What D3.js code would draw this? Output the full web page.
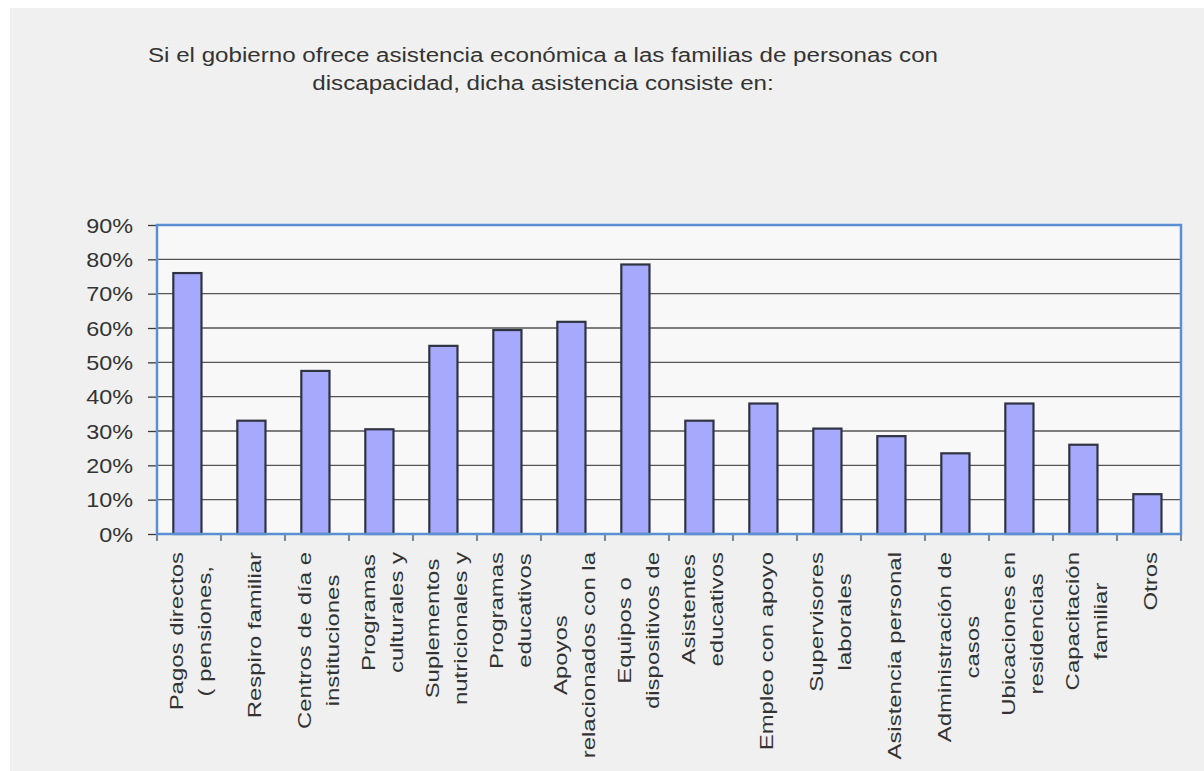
<!DOCTYPE html>
<html>
<head>
<meta charset="utf-8">
<script src="https://cdn.jsdelivr.net/npm/d3@7"></script>
<style>
  body { margin: 0; background: #fff; }
  text { font-family: "Liberation Sans", Arial, sans-serif; fill: #333; }
</style>
</head>
<body>
<svg id="mysvg" width="1204" height="771"></svg>
<script>
// data
let titleLines = ["Si el gobierno ofrece asistencia económica a las familias de personas con",
                  "discapacidad, dicha asistencia consiste en:"];

let categories = [
    "Pagos directos\n( pensiones,",
    "Respiro familiar",
    "Centros de día e\ninstituciones",
    "Programas\nculturales y",
    "Suplementos\nnutricionales y",
    "Programas\neducativos",
    "Apoyos\nrelacionados con la",
    "Equipos o\ndispositivos de",
    "Asistentes\neducativos",
    "Empleo con apoyo",
    "Supervisores\nlaborales",
    "Asistencia personal",
    "Administración de\ncasos",
    "Ubicaciones en\nresidencias",
    "Capacitación\nfamiliar",
    "Otros"
];

let values = [76, 33, 47.5, 30.5, 54.8, 59.4, 61.8, 78.5, 33, 38, 30.7, 28.5, 23.5, 38, 26, 11.6];

let yTicks = [0, 10, 20, 30, 40, 50, 60, 70, 80, 90];


let svg = d3.select('#mysvg');

let plotLeft = 157, plotRight = 1181, plotTop = 225, plotBottom = 534;
// text in the picture runs longer than Arial at the same glyph height
let titleStretch = 1.15, tickStretch = 1.17, labelStretch = 1.26;

// page background
svg.append("rect").attr("x", 10).attr("y", 8).attr("width", 1194).attr("height", 763).attr("fill", "#f0f0f0");

// title
svg.append("g")
    .attr("transform", "translate(543,0) scale(" + titleStretch + ",1)")
    .append("text")
    .attr("text-anchor", "middle")
    .style("font-size", "21px")
    .selectAll("tspan")
    .data(titleLines)
    .enter()
    .append("tspan")
    .attr("x", 0)
    .attr("y", function(d, i){ return 62 + i * 28 })
    .text(d => d);

let x = d3.scaleBand().domain(categories).range([plotLeft, plotRight]);
let y = d3.scaleLinear().domain([0, 90]).range([plotBottom, plotTop]);

// plot area
svg.append("rect")
    .attr("x", plotLeft).attr("y", plotTop)
    .attr("width", plotRight - plotLeft).attr("height", plotBottom - plotTop)
    .attr("fill", "#f8f8f8");

// gridlines
svg.append("g")
    .selectAll("line")
    .data(yTicks.filter(d => d > 0 && d < 90))
    .enter()
    .append("line")
    .attr("x1", plotLeft).attr("x2", plotRight)
    .attr("y1", d => y(d)).attr("y2", d => y(d))
    .attr("stroke", "#555")
    .attr("stroke-width", 1.3);

// bars
let bw = x.bandwidth();
svg.append("g")
    .selectAll("rect")
    .data(values)
    .enter()
    .append("rect")
    .attr("x", (d, i) => x(categories[i]) + bw * 0.255)
    .attr("y", d => y(d))
    .attr("width", bw * 0.44)
    .attr("height", d => y(0) - y(d))
    .attr("fill", "#a7a9fd")
    .attr("stroke", "#2f3442")
    .attr("stroke-width", 2.2);

// y axis
let yAxis = svg.append("g")
    .attr("transform", "translate(" + plotLeft + ",0)")
    .call(d3.axisLeft(y).tickValues(yTicks).tickFormat(d => d + "%").tickSize(9).tickPadding(0));
yAxis.select(".domain").remove();
yAxis.selectAll(".tick line").attr("stroke", "#3a3a3a").attr("stroke-width", 1.3);
yAxis.selectAll("text")
    .style("font-size", "20px")
    .attr("fill", "#333")
    .attr("x", -24 / tickStretch)
    .attr("dy", "0.35em")
    .attr("transform", "scale(" + tickStretch + ",1)");

// x ticks at category boundaries
let bounds = categories.map(c => x(c)).concat([plotRight]);
svg.append("g")
    .selectAll("line")
    .data(bounds)
    .enter()
    .append("line")
    .attr("x1", d => d).attr("x2", d => d)
    .attr("y1", plotBottom).attr("y2", plotBottom + 7)
    .attr("stroke", "#3a4a60")
    .attr("stroke-width", 1.3);

// plot frame
svg.append("rect")
    .attr("x", plotLeft).attr("y", plotTop)
    .attr("width", plotRight - plotLeft).attr("height", plotBottom - plotTop)
    .attr("fill", "none")
    .attr("stroke", "#5b8fd3")
    .attr("stroke-width", 2.5);

// category labels, rotated, lines centered on each other
let labels = svg.append("g")
    .selectAll("g.lab")
    .data(categories)
    .enter()
    .append("g")
    .attr("class", "lab");

labels.each(function(c){
    let g = d3.select(this);
    let lines = c.split("\n");
    let lineH = 28;
    let t = g.append("text")
        .attr("text-anchor", "middle")
        .style("font-size", "19px");
    lines.forEach(function(l, i){
        t.append("tspan")
            .attr("x", 0)
            .attr("y", (i - (lines.length - 1) / 2) * lineH)
            .attr("dy", "0.35em")
            .text(l);
    });
    let maxLen = d3.max(t.selectAll("tspan").nodes(), n => n.getComputedTextLength()) * labelStretch;
    let cx = x(c) + bw / 2 + 1;
    let cy = plotBottom + 18 + maxLen / 2;
    g.attr("transform", "translate(" + cx + "," + cy + ") rotate(-90) scale(" + labelStretch + ",1)");
});
</script>
</body>
</html>
